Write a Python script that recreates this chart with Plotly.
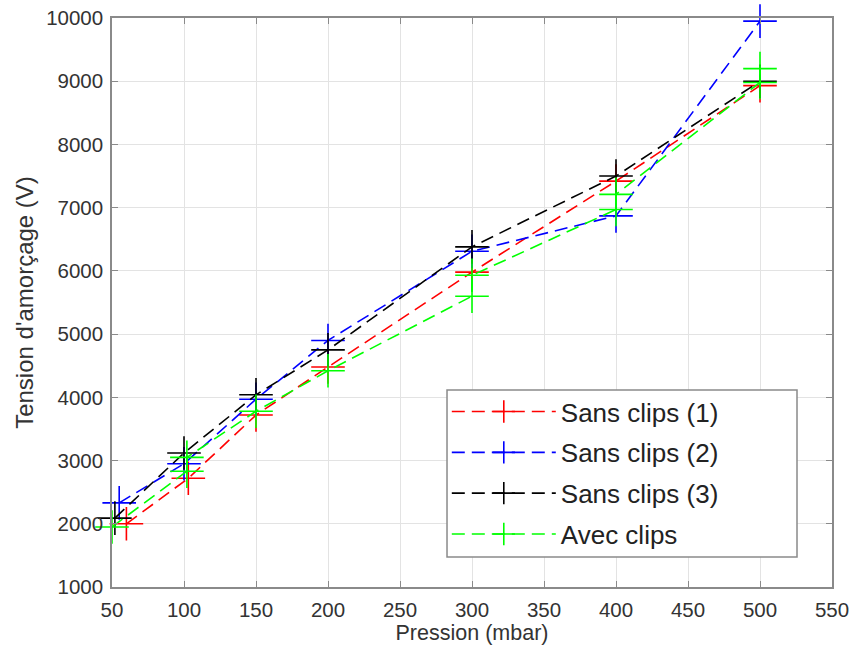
import plotly.graph_objects as go

# Data
red_x = [60, 103, 150, 200, 300, 400, 500]
red_y = [2000, 2720, 3720, 4480, 5980, 7420, 8930]

blue_x = [55, 100, 150, 200, 300, 400, 500]
blue_y = [2330, 2950, 3970, 4900, 6310, 6870, 9950]

black_x = [52, 100, 150, 200, 300, 400, 500]
black_y = [2090, 3120, 4040, 4750, 6380, 7500, 9000]

green_x = [50, 102, 102, 150, 200, 300, 300, 400, 400, 500, 500]
green_y = [1950, 2830, 3050, 3780, 4420, 5600, 5930, 6970, 7210, 8980, 9200]

series_names = ["Sans clips (1)", "Sans clips (2)", "Sans clips (3)", "Avec clips"]
x_ticks = [50, 100, 150, 200, 250, 300, 350, 400, 450, 500, 550]
y_ticks = [1000, 2000, 3000, 4000, 5000, 6000, 7000, 8000, 9000, 10000]

series = [
    (red_x, red_y, "#ff0000"),
    (blue_x, blue_y, "#0000ff"),
    (black_x, black_y, "#000000"),
    (green_x, green_y, "#00ff00"),
]

fig = go.Figure()
for i, ((xs, ys, col), name) in enumerate(zip(series, series_names)):
    fig.add_trace(go.Scatter(
        x=xs, y=ys, name=name, mode="lines+markers",
        line=dict(color=col, width=1.6, dash="13px,7px"),
        marker=dict(symbol="cross-thin-open", size=24, color=col,
                    line=dict(color=col, width=1.6)),
        legendgroup="g%d" % i,
        cliponaxis=False,
    ))

font_fam = "Liberation Sans, Arial, sans-serif"
axis_common = dict(
    showline=True, linecolor="#8a8a8a", linewidth=1.5, mirror="allticks",
    ticks="inside", ticklen=6, tickcolor="#8a8a8a", tickwidth=1,
    showgrid=True, gridcolor="#e3e3e3", gridwidth=1, zeroline=False,
    tickfont=dict(family=font_fam, size=20.5, color="#333333"),
    automargin=False, ticklabeloverflow="allow",
)

fig.update_xaxes(range=[50, 550], tickvals=x_ticks, ticktext=[str(v) for v in x_ticks],
                 ticklabelstandoff=4,
                 title=dict(text="Pression (mbar)", font=dict(family=font_fam, size=21.5, color="#333333"), standoff=5),
                 **axis_common)
fig.update_yaxes(range=[1000, 10000], tickvals=y_ticks, ticktext=[str(v) for v in y_ticks],
                 ticklabelstandoff=3,
                 title=dict(text="Tension d'amorçage (V)", font=dict(family=font_fam, size=24, color="#333333"), standoff=6),
                 **axis_common)

# legend frame (reference legend box is wider than its text)
fig.add_shape(type="rect", xref="paper", yref="paper",
              x0=0.4653, x1=0.9514, y0=0.0527, y1=0.3462,
              line=dict(color="#8a8a8a", width=1.5), fillcolor="white", layer="above")

fig.update_layout(
    width=853, height=654,
    margin=dict(l=112, r=21, t=18, b=67),
    plot_bgcolor="white", paper_bgcolor="white",
    legend=dict(
        x=0.465, y=0.3495, xanchor="left", yanchor="top",
        bgcolor="rgba(0,0,0,0)", borderwidth=0,
        font=dict(family=font_fam, size=26, color="#222222"),
        tracegroupgap=4, itemwidth=104,
    ),
    showlegend=True,
)

fig.write_html("out.html", config={"displayModeBar": False},
               post_script="document.body.style.margin='0px';")
